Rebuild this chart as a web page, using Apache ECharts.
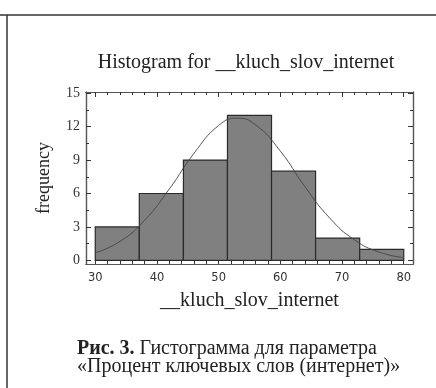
<!DOCTYPE html>
<html>
<head>
<meta charset="utf-8">
<script src="https://cdn.jsdelivr.net/npm/echarts@6/dist/echarts.min.js"></script>
<style>html,body{margin:0;padding:0;background:#fff}#c{width:436px;height:388px}</style>
</head>
<body>
<div id="c"></div>
<script>
// Histogram bins (edges) and counts
var binEdges = [30, 37.14, 44.29, 51.43, 58.57, 65.71, 72.86, 80];
var counts = [3, 6, 9, 13, 8, 2, 1];
// Fitted curve
var curveX = [30, 34, 38, 42, 46, 50, 53, 56, 60, 64, 68, 72, 76, 80];
var curveY = [0.68, 1.7, 3.6, 6.4, 9.6, 12.1, 12.75, 12.15, 9.8, 6.6, 3.8, 1.85, 0.75, 0.25];
var xTicks = [30, 40, 50, 60, 70, 80];
var xMinor = [32, 34, 36, 38, 42, 44, 46, 48, 52, 54, 56, 58, 62, 64, 66, 68, 72, 74, 76, 78];
var yTicks = [0, 3, 6, 9, 12, 15];
var yMinor = [1.5, 4.5, 7.5, 10.5, 13.5];

var titleText = 'Histogram for __kluch_slov_internet';
var xName = '__kluch_slov_internet';
var yName = 'frequency';
var captionBold = 'Рис. 3.';
var caption1 = ' Гистограмма для параметра';
var caption2 = '«Процент ключевых слов (интернет)»';

var bars = [];
for (var i = 0; i < counts.length; i++) bars.push([binEdges[i], binEdges[i + 1], counts[i]]);
var curve = curveX.map(function (x, i) { return [x, curveY[i]]; });

var SERIF = "'Liberation Serif', 'Times New Roman', serif";
var frameColor = '#555';
function xAx(pos, vals, len, labels, extra) {
  var a = {
    type: 'value', position: pos, min: 28.5, max: 81.5,
    axisLine: { show: true, onZero: false, lineStyle: { color: frameColor, width: 1.2 } },
    splitLine: { show: false },
    axisTick: { show: true, inside: true, length: len, customValues: vals, lineStyle: { color: '#333' } },
    axisLabel: labels ? { show: true, customValues: vals, color: '#333', fontFamily: 'DejaVu Sans', fontSize: 11.5, margin: 8 } : { show: false }
  };
  return Object.assign(a, extra || {});
}
function yAx(pos, vals, len, labels, extra) {
  var a = {
    type: 'value', position: pos, min: -0.32, max: 15.1,
    axisLine: { show: true, onZero: false, lineStyle: { color: frameColor, width: 1.2 } },
    splitLine: { show: false },
    axisTick: { show: true, inside: true, length: len, customValues: vals, lineStyle: { color: '#333' } },
    axisLabel: labels ? { show: true, customValues: vals, color: '#333', fontFamily: SERIF, fontSize: 14, margin: 6 } : { show: false }
  };
  return Object.assign(a, extra || {});
}

var chart = echarts.init(document.getElementById('c'), null, { renderer: 'canvas' });
chart.setOption({
  animation: false,
  backgroundColor: '#fff',
  grid: { left: 86, right: 23, top: 92, bottom: 124 },
  xAxis: [
    xAx('bottom', xTicks, 5, true, {
      name: xName, nameLocation: 'middle', nameGap: 27,
      nameTextStyle: { fontFamily: SERIF, fontSize: 20, color: '#222' }
    }),
    xAx('bottom', xMinor, 3, false),
    xAx('top', xTicks, 5, false),
    xAx('top', xMinor, 3, false)
  ],
  yAxis: [
    yAx('left', yTicks, 5, true, {
      name: yName, nameLocation: 'middle', nameGap: 33, nameRotate: 90,
      nameTextStyle: { fontFamily: SERIF, fontSize: 18, color: '#222' }
    }),
    yAx('left', yMinor, 3, false),
    yAx('right', yTicks, 5, false),
    yAx('right', yMinor, 3, false)
  ],
  series: [
    {
      type: 'custom',
      data: bars,
      encode: { x: [0, 1], y: 2 },
      renderItem: function (params, api) {
        var p0 = api.coord([api.value(0), api.value(2)]);
        var p1 = api.coord([api.value(1), 0]);
        return {
          type: 'rect',
          shape: { x: p0[0], y: p0[1], width: p1[0] - p0[0], height: p1[1] - p0[1] },
          style: { fill: '#808080', stroke: '#2a2a2a', lineWidth: 1.2 }
        };
      },
      z: 2
    },
    {
      type: 'line',
      data: curve,
      smooth: true,
      symbol: 'none',
      lineStyle: { color: '#444', width: 0.9 },
      z: 3
    }
  ],
  graphic: [
    { type: 'line', shape: { x1: 0, y1: 15, x2: 436, y2: 15 }, style: { stroke: '#333', lineWidth: 1.5 } },
    { type: 'line', shape: { x1: 7, y1: 15, x2: 7, y2: 388 }, style: { stroke: '#333', lineWidth: 1.5 } },
    {
      type: 'text', x: 246, y: 63,
      style: { text: titleText, fontFamily: SERIF, fontSize: 20, fill: '#222', align: 'center', verticalAlign: 'middle' }
    },
    {
      type: 'text', x: 77, y: 340,
      style: {
        text: '{b|' + captionBold + '}{n|' + caption1 + '}\n{n|' + caption2 + '}',
        verticalAlign: 'top',
        rich: {
          b: { fontFamily: SERIF, fontWeight: 'bold', fontSize: 20, fill: '#222', lineHeight: 18 },
          n: { fontFamily: SERIF, fontSize: 20, fill: '#222', lineHeight: 18 }
        }
      }
    }
  ]
});
</script>
</body>
</html>
